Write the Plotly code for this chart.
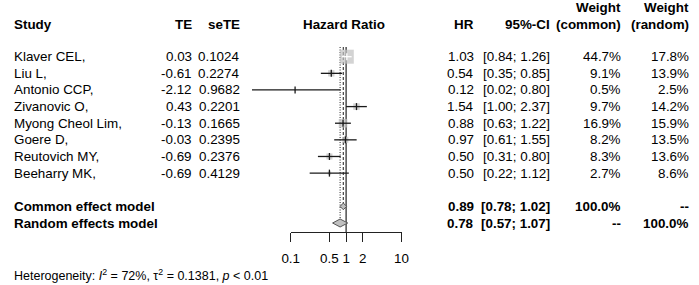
import math
import plotly.graph_objects as go

# ---------------- data ----------------
studies = ["Klaver CEL,", "Liu L,", "Antonio CCP,", "Zivanovic O,",
           "Myong Cheol Lim,", "Goere D,", "Reutovich MY,", "Beeharry MK,"]
te = [0.03, -0.61, -2.12, 0.43, -0.13, -0.03, -0.69, -0.69]
sete = [0.1024, 0.2274, 0.9682, 0.2201, 0.1665, 0.2395, 0.2376, 0.4129]
hr = [1.03, 0.54, 0.12, 1.54, 0.88, 0.97, 0.50, 0.50]
ci_low = [0.84, 0.35, 0.02, 1.00, 0.63, 0.61, 0.31, 0.22]
ci_high = [1.26, 0.85, 0.80, 2.37, 1.22, 1.55, 0.80, 1.12]
w_common = [44.7, 9.1, 0.5, 9.7, 16.9, 8.2, 8.3, 2.7]
w_random = [17.8, 13.9, 2.5, 14.2, 15.9, 13.5, 13.6, 8.6]

model_names = ["Common effect model", "Random effects model"]
model_hr = [0.89, 0.78]
model_low = [0.78, 0.57]
model_high = [1.02, 1.07]
model_w_common = ["100.0%", "--"]
model_w_random = ["--", "100.0%"]

axis_ticks = [0.1, 0.5, 1, 2, 10]
axis_ticktext = ["0.1", "0.5", "1", "2", "10"]
heterogeneity = "Heterogeneity: <i>I</i><sup>2</sup> = 72%, τ<sup>2</sup> = 0.1381, <i>p</i> &lt; 0.01"

# ---------------- layout geometry ----------------
W, H = 699, 285
PX_PER_DEC = 56.7      # pixels per decade on the log axis
X1_PX = 345.0          # pixel position of HR = 1
ROW0_PX = 56.7         # pixel centre of first row
ROW_PX = 16.63         # row spacing
AXIS_PX = 232.3

def px2row(p):
    return (p - ROW0_PX) / ROW_PX

def xfrac(p):
    return p / W

FONT = "Liberation Sans, Arial, sans-serif"
FS = 13.4

fig = go.Figure()

n = len(studies)
rows = list(range(n))
model_rows = [n + 1, n + 2]

# reference lines (drawn first so marks sit on top)
top_row = px2row(47.0)
fig.add_trace(go.Scatter(x=[1, 1], y=[top_row, px2row(AXIS_PX)], mode="lines",
                         line=dict(color="#222222", width=1.2),
                         hoverinfo="skip", showlegend=False))
fig.add_trace(go.Scatter(x=[model_hr[0], model_hr[0]], y=[top_row, model_rows[0] - 0.2],
                         mode="lines", line=dict(color="#333333", width=1.1, dash="3px,2px"),
                         hoverinfo="skip", showlegend=False))
fig.add_trace(go.Scatter(x=[model_hr[1], model_hr[1]], y=[top_row, model_rows[1] - 0.24],
                         mode="lines", line=dict(color="#333333", width=1.1, dash="1px,1.5px"),
                         hoverinfo="skip", showlegend=False))

# squares (area ~ common weight)
max_w = max(w_common)
sq_sizes = [14.0 * math.sqrt(w / max_w) for w in w_common]
fig.add_trace(go.Scatter(
    x=hr, y=rows, mode="markers",
    marker=dict(symbol="square", size=sq_sizes, color="#c0c0c0", line=dict(width=0)),
    hoverinfo="skip", showlegend=False, cliponaxis=False))

# CI lines: black outside, white inside square
bx, by, wx, wy = [], [], [], []
tbx, tby, twx, twy = [], [], [], []
for i in rows:
    hw = sq_sizes[i] / 2 / PX_PER_DEC
    inside = (math.log10(ci_low[i]) >= math.log10(hr[i]) - hw and
              math.log10(ci_high[i]) <= math.log10(hr[i]) + hw)
    if inside:
        wx += [ci_low[i], ci_high[i], None]; wy += [i, i, None]
        twx.append(hr[i]); twy.append(i)
    else:
        bx += [ci_low[i], ci_high[i], None]; by += [i, i, None]
        tbx.append(hr[i]); tby.append(i)

fig.add_trace(go.Scatter(x=bx, y=by, mode="lines", line=dict(color="#1a1a1a", width=1.3),
                         hoverinfo="skip", showlegend=False))
fig.add_trace(go.Scatter(x=wx, y=wy, mode="lines", line=dict(color="white", width=1.3),
                         hoverinfo="skip", showlegend=False))
fig.add_trace(go.Scatter(x=tbx, y=tby, mode="markers",
                         marker=dict(symbol="line-ns", size=5, line=dict(color="#1a1a1a", width=1.3)),
                         hoverinfo="skip", showlegend=False))
fig.add_trace(go.Scatter(x=twx, y=twy, mode="markers",
                         marker=dict(symbol="line-ns", size=5, line=dict(color="white", width=1.3)),
                         hoverinfo="skip", showlegend=False))

# diamonds
half_h = [0.2, 0.24]
for k in range(2):
    r = model_rows[k]
    fig.add_trace(go.Scatter(
        x=[model_low[k], model_hr[k], model_high[k], model_hr[k], model_low[k]],
        y=[r, r - half_h[k], r, r + half_h[k], r],
        mode="lines", fill="toself", fillcolor="#c0c0c0",
        line=dict(color="#555555", width=1), hoverinfo="skip", showlegend=False))

# dummy trace for the display axis
fig.add_trace(go.Scatter(x=[1], y=[None], xaxis="x2", yaxis="y", mode="markers",
                         marker=dict(opacity=0), hoverinfo="skip", showlegend=False))

# ---------------- text ----------------
ann = []
def txt(text, xpx, row, anchor, bold=False, size=FS):
    ann.append(dict(text=f"<b>{text}</b>" if bold else text, x=xfrac(xpx), y=row,
                    xref="paper", yref="y", xanchor=anchor, yanchor="middle",
                    showarrow=False, font=dict(family=FONT, size=size, color="black")))

COL_STUDY, COL_TE, COL_SE, COL_HRH = 3, 189, 238.5, 343
COL_HR, COL_CI, COL_WC, COL_WR = 478, 556, 628.5, 697.5

hdr = px2row(24.5)
hdr_top = px2row(7.0)
txt("Study", COL_STUDY, hdr, "left", True)
txt("TE", COL_TE, hdr, "right", True)
txt("seTE", COL_SE, hdr, "right", True)
txt("Hazard Ratio", COL_HRH, hdr, "center", True)
txt("HR", COL_HR, hdr, "right", True)
txt("95%-CI", COL_CI, hdr, "right", True)
txt("Weight", COL_WC, hdr_top, "right", True)
txt("(common)", COL_WC, hdr, "right", True)
txt("Weight", COL_WR, hdr_top, "right", True)
txt("(random)", COL_WR, hdr, "right", True)

for i in rows:
    txt(studies[i], COL_STUDY, i, "left")
    txt(f"{te[i]:.2f}", COL_TE, i, "right")
    txt(f"{sete[i]:.4f}", COL_SE, i, "right")
    txt(f"{hr[i]:.2f}", COL_HR, i, "right")
    txt(f"[{ci_low[i]:.2f}; {ci_high[i]:.2f}]", COL_CI, i, "right")
    txt(f"{w_common[i]:.1f}%", COL_WC, i, "right")
    txt(f"{w_random[i]:.1f}%", COL_WR, i, "right")

for k in range(2):
    r = model_rows[k]
    txt(model_names[k], COL_STUDY, r, "left", True)
    txt(f"{model_hr[k]:.2f}", COL_HR, r, "right", True)
    txt(f"[{model_low[k]:.2f}; {model_high[k]:.2f}]", COL_CI, r, "right", True)
    txt(model_w_common[k], COL_WC, r, "right", True)
    txt(model_w_random[k], COL_WR, r, "right", True)

txt(heterogeneity, COL_STUDY, px2row(275.0), "left", False, 12.5)

x_left = -X1_PX / PX_PER_DEC
x_right = (W - X1_PX) / PX_PER_DEC
ax_lo, ax_hi = X1_PX - PX_PER_DEC, X1_PX + PX_PER_DEC

fig.update_layout(
    width=W, height=H, margin=dict(l=0, r=0, t=0, b=0),
    paper_bgcolor="white", plot_bgcolor="rgba(0,0,0,0)",
    xaxis=dict(type="log", range=[x_left, x_right], domain=[0, 1], visible=False, fixedrange=True),
    xaxis2=dict(type="log", range=[-1, 1], domain=[xfrac(ax_lo), xfrac(ax_hi)],
                anchor="free", position=1 - AXIS_PX / H, side="bottom",
                tickvals=axis_ticks, ticktext=axis_ticktext,
                ticks="outside", ticklen=8.5, tickwidth=1.1, tickcolor="#222222",
                showline=True, linecolor="#222222", linewidth=1.1,
                showgrid=False, zeroline=False, ticklabelstandoff=5,
                tickfont=dict(family=FONT, size=FS, color="black"), fixedrange=True),
    yaxis=dict(range=[px2row(H), px2row(0)], domain=[0, 1], visible=False, fixedrange=True),
    annotations=ann, showlegend=False,
)

fig.write_html("out.html", config={"displayModeBar": False},
               post_script="document.body.style.margin='0px';document.body.style.overflow='hidden';")
